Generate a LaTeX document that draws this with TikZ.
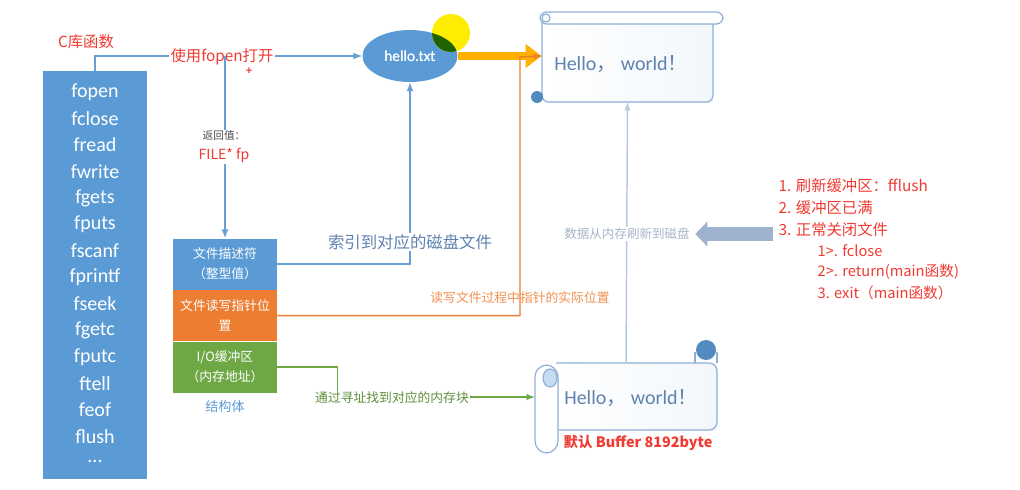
\documentclass[tikz,border=0pt]{standalone}
\usepackage{fontspec}
\setmainfont{Carlito}
\newfontfamily\cjk{Noto Sans CJK SC}
\usepackage{tikz}
\usetikzlibrary{arrows,arrows.meta,calc,shapes.geometric}
\definecolor{boxblue}{HTML}{5B9BD5}
\definecolor{wireblue}{HTML}{6A9FD6}
\definecolor{txtred}{HTML}{F03A32}
\definecolor{fporange}{HTML}{ED7D31}
\definecolor{bufgreen}{HTML}{6EA845}
\definecolor{gold}{HTML}{FFB000}
\definecolor{scrollline}{HTML}{8FAFD6}
\definecolor{hellotxt}{HTML}{5F82B0}
\definecolor{flushgray}{HTML}{B7C8E0}
\definecolor{flushtxt}{HTML}{A8B6CA}
\definecolor{arrowgray}{HTML}{9EB2CE}
\newdimen\px
\px=0.75pt

\begin{document}
\begin{tikzpicture}[x=0.75pt, y=-0.75pt,
  every node/.style={inner sep=1pt},
  listbox/.style={fill=boxblue, minimum width=104*\px, minimum height=408*\px},
  listitem/.style={text=white, font=\fontsize{15}{16}\selectfont},
  redtxt/.style={text=txtred, font=\cjk\fontsize{11.5}{14}\selectfont},
  structbox/.style={minimum width=104*\px, minimum height=51*\px, text=white, align=center,
    font=\cjk\fontsize{9.6}{15}\selectfont},
  wirelabel/.style={fill=white, font=\cjk\fontsize{9.6}{12}\selectfont},
  bluewire/.style={draw=wireblue, line width=1.3pt},
  scrolledge/.style={draw=scrollline, line width=0.9pt},
  hello/.style={text=hellotxt, font=\fontsize{15}{18}\selectfont}]
\useasboundingbox (0,0) rectangle (1020,489);

%%%%% C library functions %%%%%
\node[redtxt] (clibtitle) at (86,42) {C库函数};
\node[listbox] (clib) at (95,275) {};
\foreach \fn [count=\i] in {fopen,fclose,fread,fwrite,fgets,fputs,fscanf,fprintf,fseek,fgetc,fputc,ftell,feof,flush}{
  \node[listitem] (fn\i) at (95,{92+26.5*(\i-1)}) {\fn};
}
\node[listitem] (fndots) at (95,461) {...};

%%%%% FILE struct %%%%%
\node[structbox, fill=boxblue] (fdesc) at (225,264) {文件描述符\\（整型值）};
\node[structbox, fill=fporange, anchor=north] (fpos) at (fdesc.south) {文件读写指针位\\置};
\node[structbox, fill=bufgreen, anchor=north] (iobuf) at (fpos.south) {I/O缓冲区\\（内存地址）};
\node[text=boxblue, font=\cjk\fontsize{9.8}{12}\selectfont] (structlbl) at (225,407) {结构体};

%%%%% disk file %%%%%
\node[ellipse, fill=boxblue, minimum width=95*\px, minimum height=52*\px, text=white,
  font=\fontsize{11.5}{14}\selectfont] (hello) at (410,56) {hello.txt};
\fill[yellow!95!orange] (451,33) circle (19);
\begin{scope}
  \clip (410,56) ellipse (47.5 and 26);
  \fill[green!35!black!75!olive] (451,33) circle (19);
\end{scope}
\node[text=white, font=\fontsize{11.5}{14}\selectfont] at (hello) {hello.txt};

%%%%% scroll on disk %%%%%
\node[minimum width=171*\px, minimum height=84*\px] (diskscroll) at (627.5,60) {};
\shade[left color=white, right color=boxblue!8] (542,18) rectangle (713,102);
\draw[scrolledge, rounded corners=5] (542,18) -- (542,102) -- (713,102) -- (713,18);
\draw[scrolledge, fill=white, rounded corners=5] (540,12) rectangle (723,24);
\draw[scrolledge] (546,18) circle (4);
\fill[boxblue!90!black] (537,97) circle (6);
\node[hello] (diskhello) at (621,64) {Hello{\cjk ，} world{\cjk ！}};

%%%%% scroll in memory %%%%%
\node[minimum width=182*\px, minimum height=67*\px] (bufscroll) at (626,397) {};
\shade[left color=white, right color=boxblue!8] (556,363) rectangle (717,430);
\draw[scrolledge, rounded corners=6] (556,363) -- (717,363) -- (717,430) -- (556,430);
\draw[scrolledge] (695,363) -- (695,352);
\draw[scrolledge] (717,363) -- (717,352);
\fill[boxblue!90!black] (706,350) circle (10);
\draw[scrolledge, fill=white, rounded corners=9] (535,365) rectangle (558,453);
\draw[scrolledge, fill=boxblue!35] (550,378) ellipse (7 and 9);
\node[hello] (bufhello) at (631,398) {Hello{\cjk ，} world{\cjk ！}};
\node[text=txtred, font=\cjk\bfseries\fontsize{10.8}{13}\selectfont] (bufsize) at (638,443) {默认 Buffer 8192byte};

%%%%% fopen %%%%%
\coordinate (split) at (fdesc.north |- hello.west);
\draw[bluewire, -latex] (clib.north) |- (hello.west);
\node[redtxt, fill=white] (fopenlbl) at (222,57) {使用fopen打开};
\node[text=txtred, font=\bfseries\fontsize{9}{9}\selectfont] (cursor) at (249,71) {+};
\draw[bluewire, -latex] (split) -- (fdesc.north);
\node[fill=white, align=center, font=\cjk\fontsize{8}{15}\selectfont, text=black!70] (retval) at (224,147)
  {返回值：\\{\color{txtred}\fontsize{10.5}{13}\selectfont FILE* fp}};

%%%%% descriptor -> disk file %%%%%
\draw[bluewire, -latex] (fdesc.east) -| (hello.south);
\node[wirelabel, text=hellotxt, font=\cjk\fontsize{12.3}{14}\selectfont] (idxlbl) at (410,242) {索引到对应的磁盘文件};

%%%%% read / write position %%%%%
\draw[gold, line width=6.5pt, -{Triangle[length=12pt,width=17pt]}] (hello.east) -- (diskscroll.west |- hello.east);
\coordinate (obend) at (520,57);
\draw[fporange, line width=1.1pt, -latex] (fpos.east) -| (obend) -- (diskscroll.west |- hello.east);
\node[text=fporange!85!white, font=\cjk\fontsize{9.6}{12}\selectfont] (poslbl) at (520,298) {读写文件过程中指针的实际位置};

%%%%% buffer in memory %%%%%
\draw[bufgreen, line width=1.1pt, -latex] (iobuf.east) -- ++(60,0) |- (bufscroll.west);
\node[wirelabel, text=bufgreen!85!black] (memlbl) at (392,398) {通过寻址找到对应的内存块};

%%%%% flush to disk %%%%%
\draw[flushgray, line width=1.1pt, -latex] (bufscroll.north) -- (diskscroll.south);
\node[wirelabel, text=flushtxt, font=\cjk\fontsize{9.4}{12}\selectfont] (flushlbl) at (627,234) {数据从内存刷新到磁盘};

\node[redtxt, anchor=west] (s1) at (777,186) {1. 刷新缓冲区：fflush};
\node[redtxt, anchor=west] (s2) at (777,208) {2. 缓冲区已满};
\node[redtxt, anchor=west] (s3) at (777,230) {3. 正常关闭文件};
\node[redtxt, anchor=west, font=\cjk\fontsize{11}{14}\selectfont] (s31) at (816,251) {1>. fclose};
\node[redtxt, anchor=west, font=\cjk\fontsize{11}{14}\selectfont] (s32) at (816,272) {2>. return(main函数)};
\node[redtxt, anchor=west, font=\cjk\fontsize{11}{14}\selectfont] (s33) at (816,293) {3. exit（main函数）};
\draw[arrowgray, line width=10.5pt, -{Triangle[length=9pt,width=18pt]}, shorten <=3pt, shorten >=3pt]
  (s3.west |- flushlbl.east) -- (flushlbl.east);
\end{tikzpicture}
\end{document}
